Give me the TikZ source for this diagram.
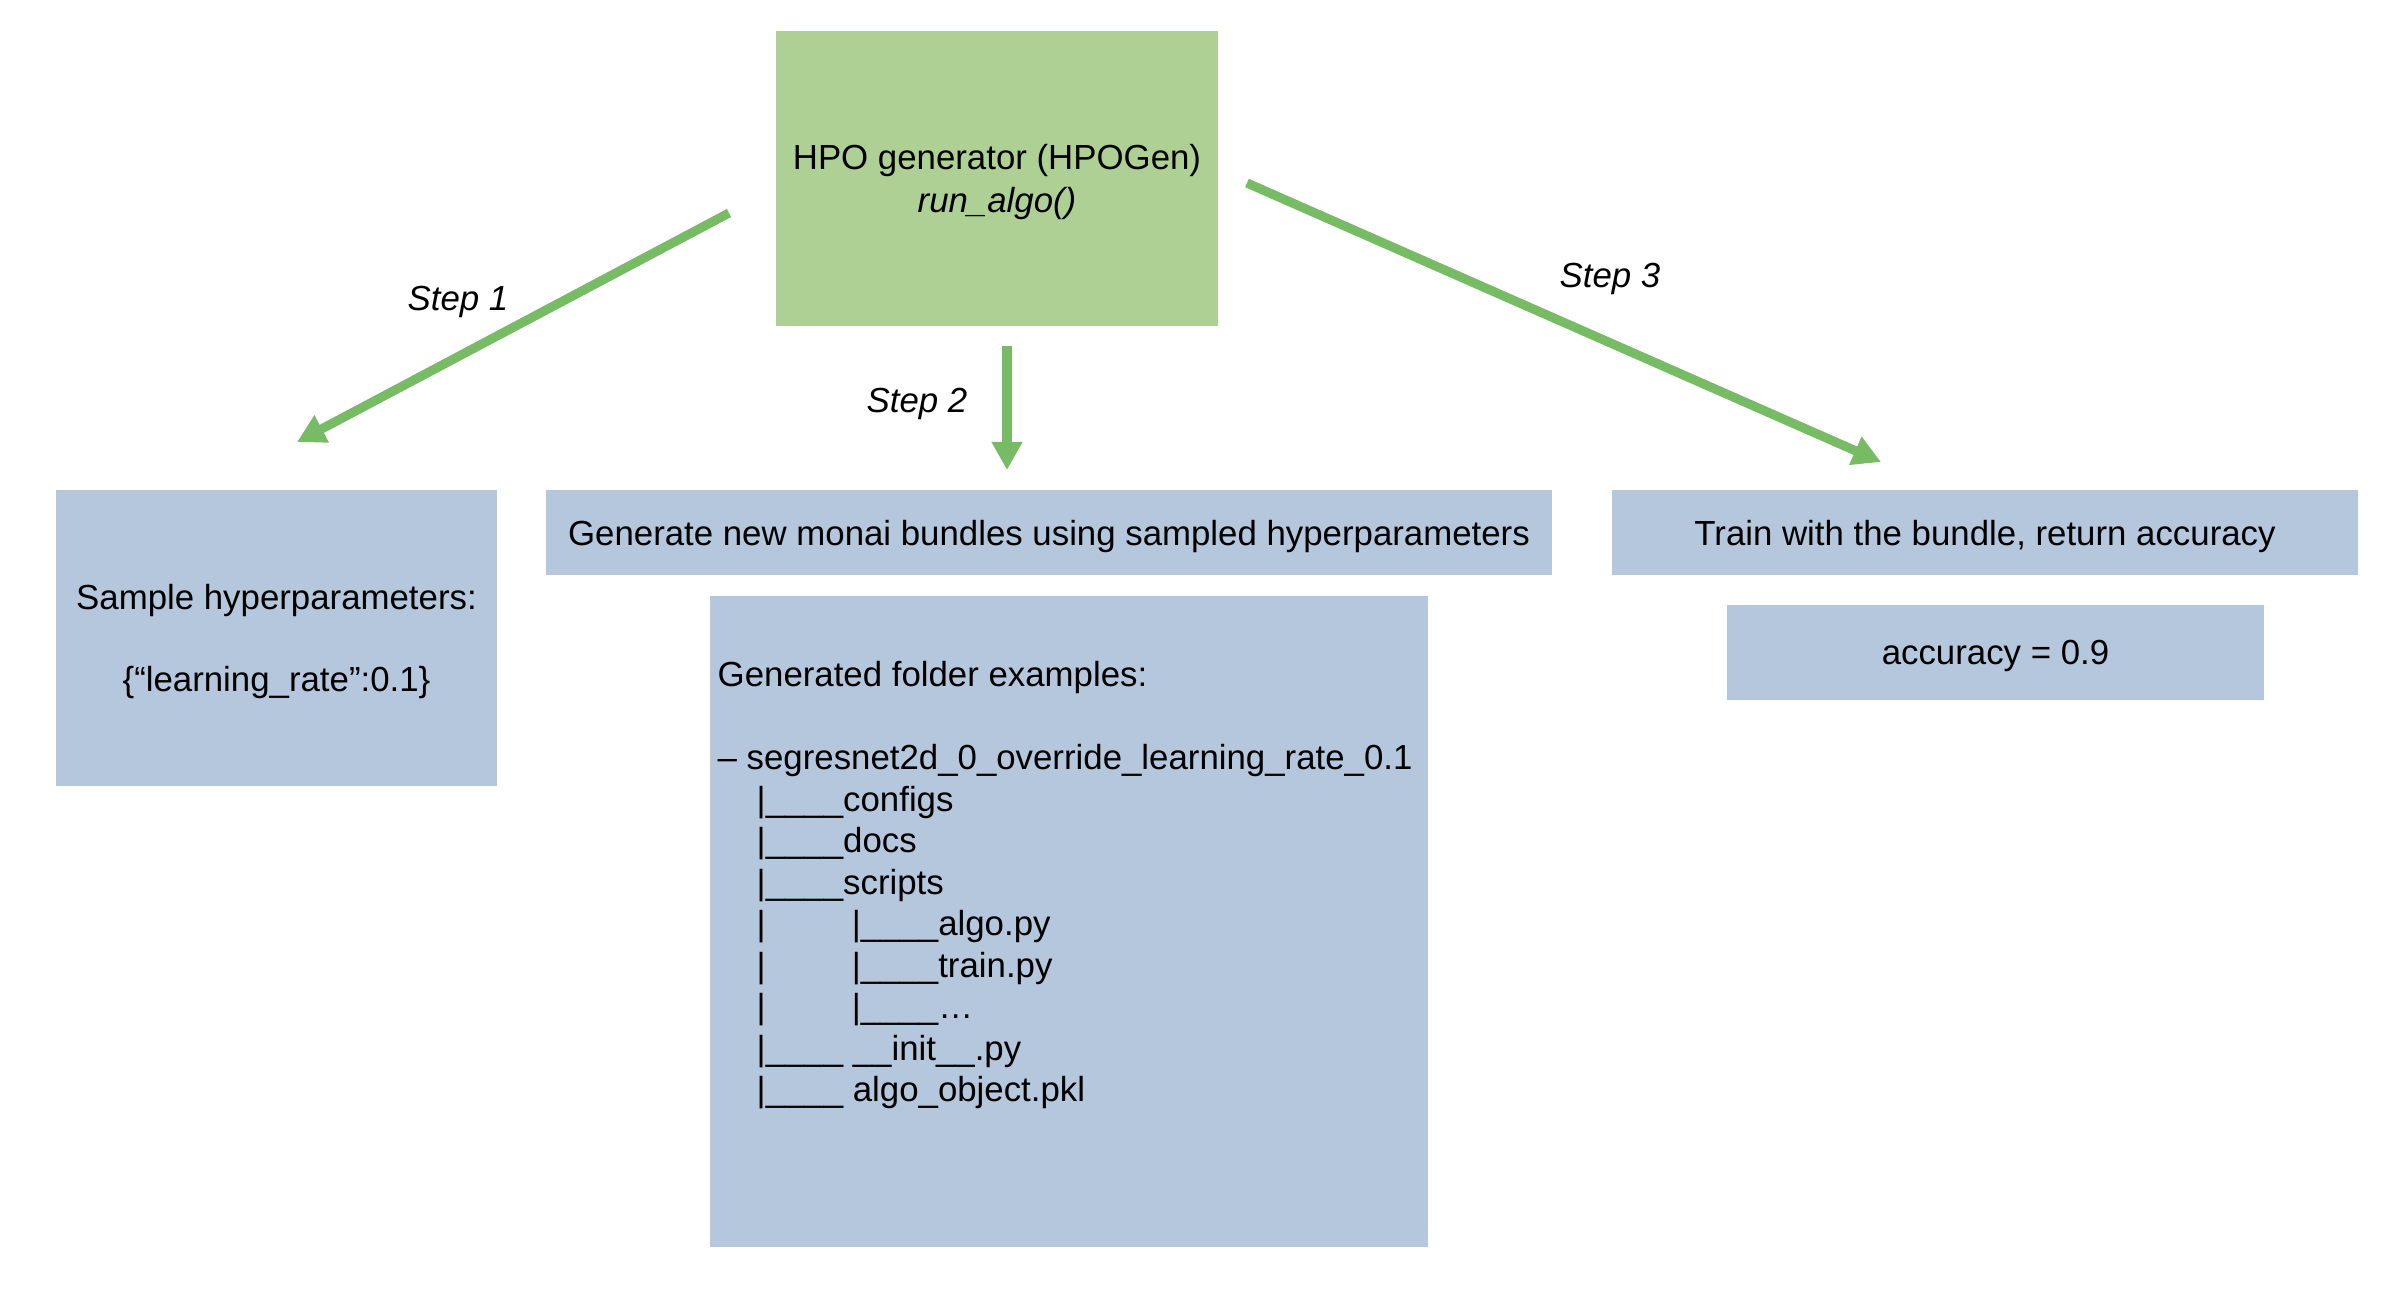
\documentclass[tikz,border=0pt]{standalone}
\usepackage{fontspec}
\setmainfont{Liberation Sans}
\usetikzlibrary{arrows.meta}
\definecolor{hpogreen}{HTML}{AFD095}
\definecolor{stepgreen}{HTML}{77BC65}
\definecolor{boxblue}{HTML}{B4C7DC}

\begin{document}
\begin{tikzpicture}[x=0.01cm,y=-0.01cm,
    every node/.style={font=\fontsize{9.9}{11.9}\selectfont},
    greenbox/.style={fill=hpogreen,inner sep=0pt,align=center,text depth=0pt},
    bluebox/.style={fill=boxblue,inner sep=0pt,align=center,text depth=0pt},
    steparrow/.style={draw=stepgreen,line width=2.6pt,-{Triangle[length=0.28cm,width=0.29cm]}},
    steplabel/.style={font=\fontsize{9.9}{11.9}\selectfont\itshape}]
  \useasboundingbox (0,0) rectangle (2384,1296);

  % Generator on top.
  \node[greenbox,minimum width=4.41cm,minimum height=2.95cm] (hpo) at (997,178.5)
    {HPO generator (HPOGen)\\[0.5pt]\textit{run\_algo()}};

  % Boxes of the three steps.
  \node[bluebox,minimum width=4.41cm,minimum height=2.96cm] (sample) at (276.5,638)
    {Sample hyperparameters:\\[11.3pt]\{“learning\_rate”:0.1\}};
  \node[bluebox,minimum width=10.06cm,minimum height=0.85cm] (bundle) at (1049,532.5)
    {Generate new monai bundles using sampled hyperparameters};
  \node[bluebox,minimum width=7.18cm,minimum height=6.51cm] (folder) at (1069,921.5) {};
  \node[bluebox,minimum width=7.46cm,minimum height=0.85cm] (train) at (1985,532.5)
    {Train with the bundle, return accuracy};
  \node[bluebox,minimum width=5.37cm,minimum height=0.95cm] (acc) at (1995.5,652.5)
    {accuracy = 0.9};

  % Folder tree.
  \node[anchor=north west,inner sep=0pt,align=left,
        font=\fontsize{9.9}{11.8}\selectfont] (tree) at (717,661)
    {Generated folder examples:\\[11.8pt]
     – segresnet2d\_0\_override\_learning\_rate\_0.1\\
     \hspace{0.39cm}|\_\_\_\_configs\\
     \hspace{0.39cm}|\_\_\_\_docs\\
     \hspace{0.39cm}|\_\_\_\_scripts\\
     \hspace{0.39cm}|\hspace{0.86cm}|\_\_\_\_algo.py\\
     \hspace{0.39cm}|\hspace{0.86cm}|\_\_\_\_train.py\\
     \hspace{0.39cm}|\hspace{0.86cm}|\_\_\_\_…\\
     \hspace{0.39cm}|\_\_\_\_ \_\_init\_\_.py\\
     \hspace{0.39cm}|\_\_\_\_ algo\_object.pkl};

  % Free ends of the step arrows.
  \coordinate (s1a) at (729,213);
  \coordinate (s1b) at (297,442);
  \coordinate (s2a) at (1007,346);
  \coordinate (s2b) at (1007,470);
  \coordinate (s3a) at (1247,183);
  \coordinate (s3b) at (1881,462);

  % Step arrows and their labels.
  \draw[steparrow] (s1a) -- (s1b);
  \draw[steparrow] (s2a) -- (s2b);
  \draw[steparrow] (s3a) -- (s3b);
  \node[steplabel] (step1) at (458,302) {Step 1};
  \node[steplabel] (step2) at (917,404) {Step 2};
  \node[steplabel] (step3) at (1610,279) {Step 3};
\end{tikzpicture}
\end{document}
